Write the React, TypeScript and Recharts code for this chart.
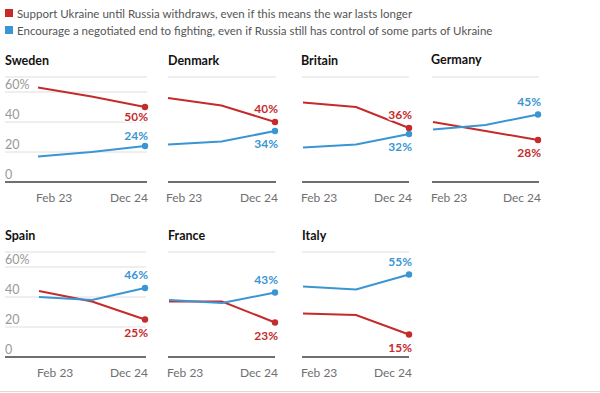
import { LineChart, Line, XAxis, YAxis, CartesianGrid } from "recharts";

// survey waves (only first and last are labelled)
const periods = ["Feb 23", "Mid", "Dec 24"];
const yTicks = [0, 20, 40, 60];

// % support Ukraine until Russia withdraws
const swedenSupport = [63, 57, 50];
const denmarkSupport = [56, 51, 40];
const britainSupport = [53, 50, 36];
const germanySupport = [40, 34, 28];
const spainSupport = [44, 37, 25];
const franceSupport = [37, 37, 23];
const italySupport = [29, 28, 15];

// % encourage a negotiated end
const swedenNegotiate = [17, 20, 24];
const denmarkNegotiate = [25, 27, 34];
const britainNegotiate = [23, 25, 32];
const germanyNegotiate = [35, 38, 45];
const spainNegotiate = [40, 38, 46];
const franceNegotiate = [38, 36, 43];
const italyNegotiate = [47, 45, 55];

const RED = "#c52b2b";
const BLUE = "#3a95d3";
const FONT = "Lato, 'Noto Sans', sans-serif";

const ML = 4;
const MR = 10;
const MT = 6;
const XH = 30;
const PLOT_H = 105;

interface PanelProps {
  support: number[];
  negotiate: number[];
  left: number;
  top: number;
  plotW: number;
  padL: number;
  padR: number;
  showY?: boolean;
  redAbove: boolean;
  gap?: number;
}

function toRows(support: number[], negotiate: number[]) {
  return periods.map((p, i) => ({ period: p, support: support[i], negotiate: negotiate[i] }));
}

function Panel({ support, negotiate, left, top, plotW, padL, padR, showY, redAbove, gap = 13 }: PanelProps) {
  const data = toRows(support, negotiate);
  const last = data.length - 1;

  const endDot = (color: string) => (props: any) => {
    if (props.index !== last) return <g key={props.index} />;
    return <circle key={props.index} cx={props.cx} cy={props.cy} r={3.2} fill={color} />;
  };

  // label centre sits `gap` px above or below the end point
  const endLabel = (color: string, above: boolean) => (props: any) => {
    if (props.index !== last) return <g key={props.index} />;
    return (
      <text
        key={props.index}
        x={props.x + 3}
        y={props.y + (above ? -gap : gap) + 4.3}
        textAnchor="end"
        fill={color}
        fontSize={12}
        fontWeight={700}
        fontFamily={FONT}
        stroke="#fff"
        strokeWidth={3}
        paintOrder="stroke"
      >
        {props.value}%
      </text>
    );
  };

  const xTick = (props: any) => {
    const i = props.index;
    if (i !== 0 && i !== last) return <g />;
    return (
      <text
        x={props.x + (i === 0 ? -2 : 3)}
        y={props.y}
        dy="0.71em"
        textAnchor={i === 0 ? "start" : "end"}
        fill="#707070"
        fontSize={12}
        fontFamily={FONT}
      >
        {props.payload.value}
      </text>
    );
  };

  const yTick = (props: any) => {
    const v = props.payload.value;
    return (
      <text x={ML} y={props.y - 3.5} fill="#999" fontSize={12.5} fontFamily={FONT}>
        {v === 60 ? "60%" : v}
      </text>
    );
  };

  return (
    <div style={{ position: "absolute", left: left - ML, top: top - MT }}>
      <LineChart
        width={ML + plotW + MR}
        height={MT + PLOT_H + XH}
        data={data}
        margin={{ top: MT, right: MR, left: ML - 1, bottom: 0 }}
        style={{ overflow: "visible" }}
      >
        <CartesianGrid vertical={false} stroke="#dedede" />
        <XAxis
          dataKey="period"
          interval={0}
          padding={{ left: padL, right: padR }}
          height={XH}
          axisLine={{ stroke: "#444", strokeWidth: 1.5 }}
          tickLine={false}
          tickMargin={5}
          tick={xTick}
        />
        <YAxis
          width={1}
          domain={[0, 70]}
          ticks={yTicks}
          axisLine={false}
          tickLine={false}
          tick={showY ? yTick : false}
        />
        <Line
          dataKey="support"
          stroke={RED}
          strokeWidth={2}
          dot={endDot(RED)}
          activeDot={false}
          label={endLabel(RED, redAbove)}
          isAnimationActive={false}
        />
        <Line
          dataKey="negotiate"
          stroke={BLUE}
          strokeWidth={2}
          dot={endDot(BLUE)}
          activeDot={false}
          label={endLabel(BLUE, !redAbove)}
          isAnimationActive={false}
        />
      </LineChart>
    </div>
  );
}

const titleStyle = (left: number, top: number): React.CSSProperties => ({
  position: "absolute",
  left,
  top,
  fontFamily: FONT,
  fontWeight: 700,
  fontSize: 12.5,
  color: "#121212",
  lineHeight: "14px",
});

const legendItems = [
  { color: RED, text: "Support Ukraine until Russia withdraws, even if this means the war lasts longer" },
  { color: BLUE, text: "Encourage a negotiated end to fighting, even if Russia still has control of some parts of Ukraine" },
];

export default function App() {
  const topRow = 77;
  const bottomRow = 251.5;
  return (
    <div style={{ position: "absolute", left: 0, top: 0, width: 600, height: 393, background: "#fff", overflow: "hidden" }}>
      {legendItems.map((item, i) => (
        <div
          key={item.text}
          style={{ position: "absolute", left: 5, top: 6 + i * 17, display: "flex", alignItems: "center", height: 14 }}
        >
          <div style={{ width: 8, height: 8, background: item.color, marginRight: 4 }} />
          <span style={{ fontFamily: FONT, fontSize: 11.5, color: "#555", whiteSpace: "nowrap" }}>{item.text}</span>
        </div>
      ))}

      <div style={titleStyle(5, 54)}>Sweden</div>
      <div style={titleStyle(168, 54)}>Denmark</div>
      <div style={titleStyle(301, 54)}>Britain</div>
      <div style={titleStyle(431, 53)}>Germany</div>
      <div style={titleStyle(5, 229)}>Spain</div>
      <div style={titleStyle(168, 229)}>France</div>
      <div style={titleStyle(302, 229)}>Italy</div>

      <Panel support={swedenSupport} negotiate={swedenNegotiate} left={5} top={topRow} plotW={142} padL={33} padR={2} showY redAbove={false} gap={10} />
      <Panel support={denmarkSupport} negotiate={denmarkNegotiate} left={168} top={topRow} plotW={108} padL={0} padR={1} redAbove />
      <Panel support={britainSupport} negotiate={britainNegotiate} left={302} top={topRow} plotW={107} padL={1} padR={0} redAbove />
      <Panel support={germanySupport} negotiate={germanyNegotiate} left={432} top={topRow} plotW={107} padL={1} padR={1} redAbove={false} />
      <Panel support={spainSupport} negotiate={spainNegotiate} left={5} top={bottomRow} plotW={141} padL={34} padR={1} showY redAbove={false} />
      <Panel support={franceSupport} negotiate={franceNegotiate} left={168} top={bottomRow} plotW={107} padL={1} padR={0} redAbove={false} />
      <Panel support={italySupport} negotiate={italyNegotiate} left={302} top={bottomRow} plotW={107} padL={1} padR={0} redAbove={false} />

      <div style={{ position: "absolute", left: 0, top: 391, width: 600, height: 1, background: "#dcdcdc" }} />
    </div>
  );
}
